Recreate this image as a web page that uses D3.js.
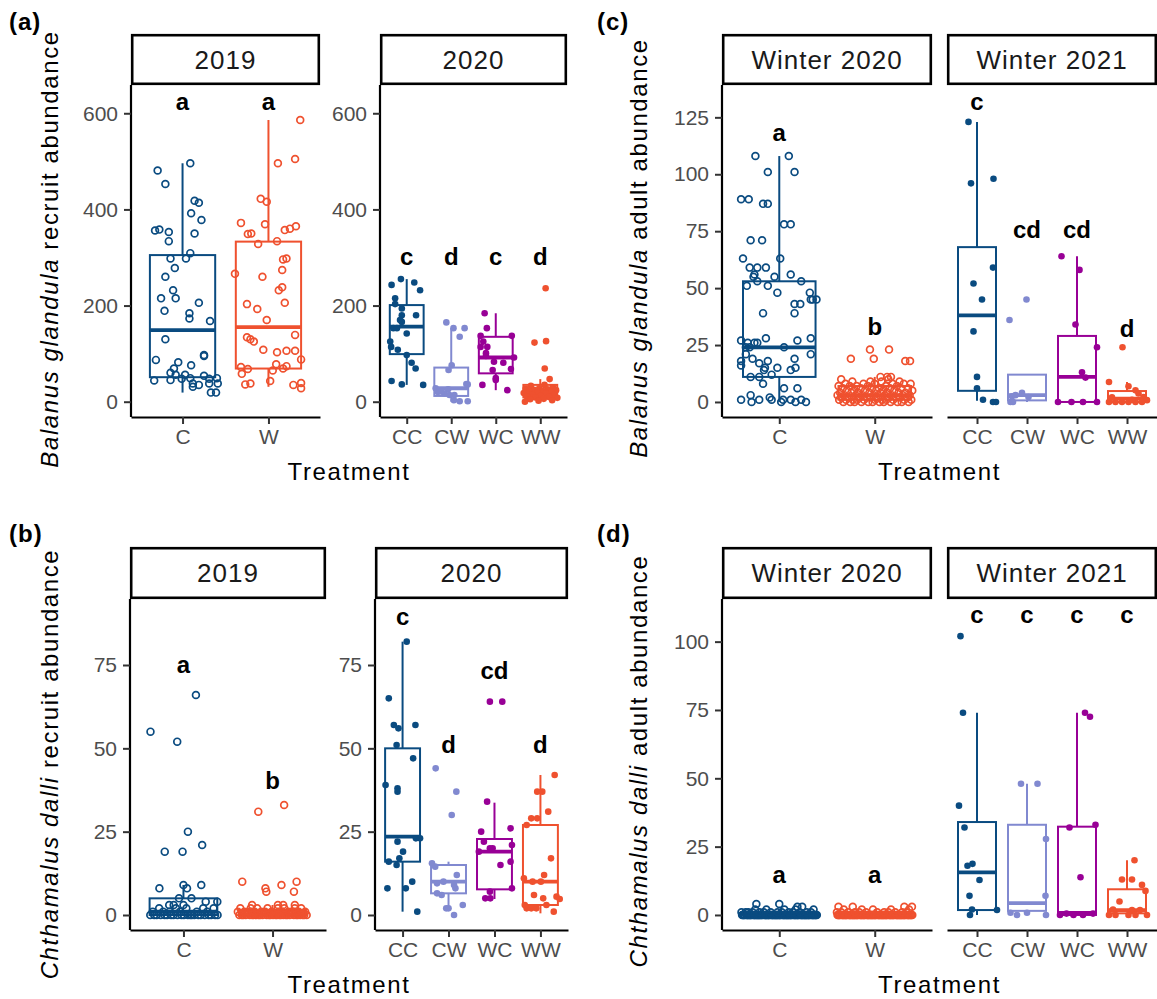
<!DOCTYPE html>
<html>
<head>
<meta charset="utf-8">
<script src="https://cdn.jsdelivr.net/npm/d3@7"></script>
<style>
  body { margin: 0; background: #fff; }
  svg { display: block; font-family: "Liberation Sans", Arial, Helvetica, sans-serif; }
  .tick text { font-family: "Liberation Sans", Arial, sans-serif; font-size: 21px; fill: #4d4d4d; }
</style>
</head>
<body>
<svg id="fig" width="1157" height="999"></svg>
<script>
// ---------- data ----------
const catsYear1 = ["C", "W"];
const catsYear2 = ["CC", "CW", "WC", "WW"];

// box stats: [lower whisker, q1, median, q3, upper whisker]
const aBox2019 = [[19, 51, 149, 305, 496], [31, 69, 155, 333, 586]];
const aBox2020 = [[35, 99, 156, 201, 255], [0, 12, 28, 71, 153], [24, 59, 92, 135, 184], [0, 9, 24, 35, 47]];
const bBox2019 = [[0, 0, 1, 5, 9], [0, 0, 0, 1.5, 3]];
const bBox2020 = [[1, 16, 23.5, 50, 82], [2, 6.5, 10, 15, 16], [4.8, 7.7, 19, 22.8, 33.7], [0.5, 3, 10, 27, 42]];
const cBox2020 = [[0, 11, 24, 53, 108], [0, 1, 3, 7, 11]];
const cBox2021 = [[0.5, 4.9, 38, 68, 123], [0, 0.7, 3, 12, 12], [0, 0, 11, 29, 64], [0, 0, 1.5, 4.8, 8.8]];
const dBox2020 = [[0, 0, 0, 1, 2], [0, 0, 0, 1, 2]];
const dBox2021 = [[0, 1.8, 15.6, 34, 74], [0, 1.5, 4.3, 33, 48], [0, 0, 0.8, 32.3, 74], [0, 0.6, 1.8, 9.4, 20]];

// points: [jitter offset in category steps, value]
const aPts2019C = [[-0.29,481],[-0.20,453],[0.09,496],[0.14,418],[0.19,414],[0.10,392],[0.22,378],[-0.32,356],[-0.27,358],[-0.16,353],[0.14,350],[-0.16,334],
  [-0.14,298],[0.04,298],[0.09,309],[-0.09,278],[-0.20,260],[-0.11,232],[-0.25,215],[-0.08,215],[0.19,206],[-0.21,189],[0.08,184],[0.08,173],[0.32,168],
  [-0.20,130],[-0.31,87],[-0.05,82],[0.25,97],[0.25,95],[0.10,76],[-0.10,69],[-0.14,60],[-0.08,56],[0.03,56],[0.09,49],[-0.33,44],[-0.14,45],[-0.01,48],
  [0.12,38],[0.12,31],[0.19,35],[0.25,54],[0.31,48],[0.40,49],[0.31,38],[0.41,38],[0.33,19],[0.39,19]];
const aPts2019W = [[0.37,586],[0.11,496],[0.31,505],[-0.09,422],[-0.02,416],[-0.32,372],[-0.04,369],[-0.24,349],[-0.20,350],[0.19,357],[0.25,360],[0.32,365],
  [-0.12,328],[0.10,334],[0.21,298],[0.17,296],[-0.39,266],[-0.07,260],[0.16,274],[0.12,232],[0.16,238],[-0.25,203],[-0.13,193],[0.19,206],[-0.02,170],
  [-0.25,134],[-0.21,130],[-0.17,125],[0.31,139],[-0.06,108],[0.10,103],[0.21,106],[0.31,106],[0.38,88],[-0.32,72],[-0.24,68],[-0.31,58],[0.09,78],
  [0.05,65],[0.17,69],[0.21,74],[0.02,43],[-0.27,36],[-0.21,38],[0.29,35],[0.38,39],[0.38,28]];
const aPts2020CC = [[-0.34,243],[-0.13,255],[0.17,248],[0.30,232],[-0.26,215],[-0.26,203],[-0.11,194],[0.21,180],[-0.11,180],[-0.15,170],[-0.30,153],
  [-0.11,166],[-0.22,153],[0,142],[-0.37,125],[-0.35,114],[-0.20,108],[0,97],[0.11,81],[0.20,69],[-0.34,43],[-0.11,36],[0.37,35]];
const aPts2020CW = [[-0.11,165],[0.05,153],[0.30,153],[0.19,135],[0.01,76],[-0.06,66],[-0.35,28],[-0.15,17],[0.07,14],[0.34,37],[0.37,36],[-0.30,20],
  [-0.04,14],[0.06,3],[0.19,1],[0.37,1],[-0.22,21],[-0.07,26]];
const aPts2020WC = [[-0.25,184],[-0.20,153],[-0.34,137],[-0.28,125],[-0.34,114],[0.36,137],[-0.22,101],[-0.04,83],[0.17,81],[0.41,92],[-0.22,95],
  [-0.07,66],[0.34,68],[0,49],[0,45],[-0.30,35],[0.26,24],[-0.19,114]];
const aPts2020WW = [[0.12,236],[-0.13,123],[0.13,126],[0.10,69],[0.21,47]];
const aDense2020WW = [[35,1],[33,1],[30,1],[28,1],[27,1],[26,1],[25,1],[24,1],[22,1],[21,1],[20,1],[19,1],[18,1],[17,1],[15,1],[14,1],[12,1],[11,1],[10,1],[9,1],[8,1],[6,1],[5,1],[3,1],[2,1],[0,1]];

const bPts2019C = [[0.14,66],[-0.37,55],[-0.07,52],[0.05,25],[-0.21,19],[-0.01,19],[0.21,21],[-0.27,8],[0,9],[0.04,8],[0.2,9],[-0.05,5],[0.09,5],
  [0.25,4],[-0.16,3],[0,3],[0.38,4],[-0.11,3]];
const bDense2019C = [[0, 22], [1, 6], [2, 5]];
const bPts2019W = [[-0.16,31],[0.13,33],[-0.34,10],[0.27,10],[-0.08,8],[-0.07,7],[0.10,9],[0.24,7],[-0.23,3],[0.06,3],[0.12,3],[0.25,3]];
const bDense2019W = [[0, 30], [1, 12], [2, 8]];
const bPts2020CC = [[0.09,82],[-0.30,65],[-0.19,57],[-0.09,56],[0.28,57],[-0.13,51],[0.23,47],[-0.37,39],[-0.11,38],[-0.11,37],[-0.11,22],[0.38,23],
  [0.29,23],[0.01,19],[-0.07,17],[-0.30,16],[-0.13,15],[-0.33,8],[0.07,8],[0.21,10],[0.32,1]];
const bPts2020CW = [[-0.28,44],[0.17,37],[0.07,30],[-0.36,15.5],[-0.29,14.5],[-0.11,10],[-0.25,9.5],[-0.15,6],[0.18,12],[0.15,8],[-0.05,2],[0,2],
  [0.12,0],[0.31,3],[0.12,9],[-0.25,6.5]];
const bPts2020WC = [[-0.10,64],[0.17,64],[-0.16,34],[-0.29,25],[0.35,26],[-0.23,22],[-0.04,20],[-0.10,20],[-0.34,19],[0.38,21],[0.35,16],[0.13,15],
  [-0.10,7],[-0.09,5],[-0.20,5],[0.38,8]];
const bPts2020WW = [[0.31,42],[-0.07,37],[0.04,37],[0.17,31],[-0.20,29],[-0.07,29],[-0.30,27],[0.23,17],[0.08,12],[-0.36,11],[-0.17,10],[0.01,10],
  [-0.14,6],[0.06,5],[0.35,5.5],[-0.30,2],[-0.20,2],[-0.09,2],[0.13,3],[0.29,1],[-0.34,3],[0.42,4.8]];

const cPts2020C = [[-0.25,108],[0.10,108],[-0.12,101],[0.16,101],[-0.40,89],[-0.32,89],[-0.17,87],[-0.12,87],[0.05,78],[0.12,78],[-0.30,71],[-0.18,71],
  [-0.38,63],[0.01,63],[-0.31,59],[-0.23,59],[-0.14,59],[-0.26,56],[-0.27,55],[-0.05,55],[0.12,56],[-0.23,53],[0.23,53],[-0.34,51],[-0.12,51],[-0.02,48],
  [0.32,48],[0.33,45],[0.39,45],[0.35,45],[0.16,43],[0.22,43],[-0.17,39],[0.16,39],[0.33,21],[-0.40,27],[-0.33,26],[-0.26,26],[-0.23,26],[-0.14,28],
  [0.19,27],[0.33,28],[-0.35,24],[-0.31,24],[0.05,24],[-0.35,21],[-0.40,18],[-0.28,19],[-0.21,17],[-0.12,18],[-0.40,16],[-0.15,15],[0.16,19],[0.17,15],
  [0.12,14],[-0.02,15],[-0.16,14],[-0.08,12],[-0.30,11],[-0.21,11],[-0.17,8],[0.05,6],[0.19,6],[-0.40,1],[-0.30,3],[-0.29,0],[-0.21,1],[-0.10,2],
  [-0.08,1],[0.02,0],[0.04,1],[0.12,1],[0.17,0],[0.23,1],[0.28,0]];
const cPts2020W = [[-0.25,19],[-0.05,23],[-0.01,19],[0.15,23],[0.32,18],[0.37,18],[0.06,11],[0.13,11],[0.17,11]];
const cDense2020W = [[0,12],[1,11],[2,10],[3,9],[4,8],[5,7],[6,7],[7,6],[8,6],[9,4],[10,2]];
const cPts2021CC = [[-0.17,123],[-0.12,96],[0.33,98],[0.32,59],[-0.07,52],[0.10,45],[-0.07,31],[0,11],[0,6],[0.12,1],[0.32,0],[0.38,0]];
const cPts2021CW = [[-0.35,36],[-0.01,45],[-0.30,2.5],[-0.23,3],[-0.10,4],[0.03,2.2],[-0.33,0],[-0.28,0]];
const cPts2021WC = [[-0.31,64],[0.05,58],[-0.03,34],[0.40,24],[0.10,13],[0.17,10.7],[-0.38,0],[-0.11,0],[0.12,0],[0.40,0]];
const cPts2021WW = [[-0.09,24],[-0.36,8.8],[0.03,6.9],[0.17,5.1],[0.23,3.7],[0.33,2.2],[0.40,0.8],[-0.36,0],[-0.23,0],[-0.10,0],[0.03,0],[0.17,0],
  [0.30,0],[-0.30,2],[0.10,1]];

const dPts2020C = [[-0.24,4],[0,4],[0.19,3],[0.24,3]];
const dDense2020C = [[0, 80], [1, 14], [2, 5]];
const dPts2020W = [[-0.38,3],[-0.23,3],[0.31,3],[0.39,3]];
const dDense2020W = [[0, 80], [1, 12], [2, 5]];
const dPts2021CC = [[-0.33,102],[-0.28,74],[-0.36,40],[-0.25,32],[-0.19,18],[-0.09,18.7],[0.05,12.8],[-0.15,7],[-0.10,2],[-0.14,0],[0.40,1.8]];
const dPts2021CW = [[-0.12,48],[0.21,48],[0.38,27.8],[0.37,7],[-0.33,0.8],[-0.20,0],[0,0.8],[0.38,0]];
const dPts2021WC = [[0.16,74],[0.26,72.5],[0.37,33],[-0.15,32],[0.07,13.8],[-0.34,0],[-0.21,0.5],[-0.07,0],[0.12,0],[0.32,0.5]];
const dPts2021WW = [[0.15,20],[-0.10,13],[0.10,13],[0.30,11],[0.37,8.8],[-0.15,4.9],[-0.28,2],[0.10,1.8],[0.26,1.8],[-0.36,0],[-0.23,0],[0.03,0],[0.17,0],[0.40,0]];

// significance letters and the value they sit at
const aLet2019 = [["a", 607], ["a", 607]];
const aLet2020 = [["c", 285], ["d", 285], ["c", 285], ["d", 285]];
const bLet2019 = [["a", 72.7], ["b", 37.7]];
const bLet2020 = [["c", 87], ["d", 48.7], ["cd", 70.7], ["d", 48.7]];
const cLet2020 = [["a", 114.4], ["b", 29.4]];
const cLet2021 = [["c", 128.4], ["cd", 71.9], ["cd", 71.9], ["d", 28.6]];
const dLet2020 = [["a", 11.8], ["a", 11.8]];
const dLet2021 = [["c", 107], ["c", 107], ["c", 107], ["c", 107]];

const aTicks = [0, 200, 400, 600];
const bTicks = [0, 25, 50, 75];
const cTicks = [0, 25, 50, 75, 100, 125];
const dTicks = [0, 25, 50, 75, 100];

// ---------- styling ----------
const colour = { C: "#0a4b80", W: "#ef512f", CC: "#0a4b80", CW: "#8189d0", WC: "#980096", WW: "#ef512f" };

// expand dense [value, count] tables into jittered points (spread evenly across the jitter width)
function dense(table) {
  const out = [];
  table.forEach(([v, n]) => { for (let k = 0; k < n; k++) out.push(v); });
  return out.map((v, i) => [(((i + 1) * 0.618034) % 1) * 0.8 - 0.4, v]);
}

const svg = d3.select("#fig");
svg.append("rect").attr("width", 1157).attr("height", 999).attr("fill", "#fff");

function drawFacet(f) {
  const g = svg.append("g");
  const x = d3.scalePoint().domain(f.cats).range([f.x0, f.x1]).padding(0.6);
  const y = f.y;
  const step = x.step();
  const bw = step * 0.76;

  // strip
  g.append("rect")
    .attr("x", f.x0 + 1.2).attr("y", f.stripTop + 1.2)
    .attr("width", f.x1 - f.x0 - 2.4).attr("height", f.top - f.stripTop - 2.4)
    .attr("fill", "#fff").attr("stroke", "#000").attr("stroke-width", 2.6);
  g.append("text")
    .attr("x", (f.x0 + f.x1) / 2).attr("y", (f.top + f.stripTop) / 2)
    .attr("dy", "0.36em").attr("text-anchor", "middle")
    .style("font-size", "26px").style("letter-spacing", "1px").attr("fill", "#1a1a1a")
    .text(f.strip);

  // axes
  const xa = g.append("g").attr("transform", `translate(0,${f.bottom})`)
    .call(d3.axisBottom(x).tickSize(7).tickSizeOuter(0).tickPadding(5));
  xa.attr("font-size", 21).attr("font-family", null);
  xa.select(".domain").attr("stroke", "#000").attr("stroke-width", 2.2);
  xa.selectAll(".tick line").attr("stroke", "#333").attr("stroke-width", 2);

  if (f.yAxis) {
    const ya = g.append("g").attr("transform", `translate(${f.x0},0)`)
      .call(d3.axisLeft(y).tickValues(f.ticks).tickSize(7).tickSizeOuter(0).tickPadding(6));
    ya.attr("font-size", 21).attr("font-family", null);
    ya.select(".domain").attr("stroke", "#000").attr("stroke-width", 2.2)
      .attr("d", `M0,${f.top}V${f.bottom}`);
    ya.selectAll(".tick line").attr("stroke", "#333").attr("stroke-width", 2);
  }

  // boxplots
  f.cats.forEach((c, i) => {
    const [lo, q1, med, q3, hi] = f.boxes[i];
    const cx = x(c), col = colour[c];
    const bg = g.append("g").attr("stroke", col).attr("fill", "none");
    bg.append("line").attr("x1", cx).attr("x2", cx).attr("y1", y(hi)).attr("y2", y(q3)).attr("stroke-width", 2);
    bg.append("line").attr("x1", cx).attr("x2", cx).attr("y1", y(q1)).attr("y2", y(lo)).attr("stroke-width", 2);
    bg.append("rect").attr("x", cx - bw / 2).attr("y", y(q3))
      .attr("width", bw).attr("height", Math.max(0.5, y(q1) - y(q3))).attr("stroke-width", 2);
    bg.append("line").attr("x1", cx - bw / 2).attr("x2", cx + bw / 2)
      .attr("y1", y(med)).attr("y2", y(med)).attr("stroke-width", 3.8);
  });

  // jittered points
  f.cats.forEach((c, i) => {
    const col = colour[c];
    g.append("g").selectAll("circle").data(f.pts[i]).join("circle")
      .attr("cx", d => x(c) + d[0] * step)
      .attr("cy", d => y(d[1]))
      .attr("r", f.filled ? 3.3 : 3.4)
      .attr("fill", f.filled ? col : "none")
      .attr("stroke", f.filled ? "none" : col)
      .attr("stroke-width", 1.7);
  });

  // letters
  g.append("g").selectAll("text").data(f.letters).join("text")
    .attr("x", (d, i) => x(f.cats[i]))
    .attr("y", d => y(d[1]))
    .attr("text-anchor", "middle")
    .style("font-size", "24px").style("font-weight", "bold").attr("fill", "#000")
    .text(d => d[0]);
}

function panel(p) {
  const y = d3.scaleLinear().domain(p.domain).range([p.bottom, p.top]);
  p.facets.forEach(f => drawFacet(Object.assign({ y, top: p.top, bottom: p.bottom, stripTop: p.stripTop, ticks: p.ticks }, f)));

  svg.append("text")
    .attr("x", p.labelX).attr("y", p.labelY)
    .style("font-size", "24px").style("font-weight", "bold").style("letter-spacing", "1px")
    .text(p.label);

  const xt = svg.append("text")
    .attr("transform", `translate(${p.titleX},${p.titleY}) rotate(-90)`)
    .attr("text-anchor", "middle")
    .style("font-size", "24px").style("letter-spacing", "1.6px").attr("fill", "#000");
  xt.append("tspan").style("font-style", "italic").text(p.species);
  xt.append("tspan").text(" " + p.measure);

  const x0 = p.facets[0].x0, x1 = p.facets[p.facets.length - 1].x1;
  svg.append("text")
    .attr("x", (x0 + x1) / 2).attr("y", p.bottom + 63)
    .attr("text-anchor", "middle")
    .style("font-size", "24px").style("letter-spacing", "1.6px").attr("fill", "#000")
    .text("Treatment");
}

panel({
  label: "(a)", labelX: 9, labelY: 30, titleX: 58, titleY: 249,
  species: "Balanus glandula", measure: "recruit abundance",
  stripTop: 34, top: 85, bottom: 417, domain: [-31.8, 658.8], ticks: aTicks,
  facets: [
    { strip: "2019", x0: 131, x1: 320, cats: catsYear1, boxes: aBox2019, pts: [aPts2019C, aPts2019W], letters: aLet2019, filled: false, yAxis: true },
    { strip: "2020", x0: 380, x1: 567, cats: catsYear2, boxes: aBox2020,
      pts: [aPts2020CC, aPts2020CW, aPts2020WC, aPts2020WW.concat(dense(aDense2020WW))], letters: aLet2020, filled: true, yAxis: true }
  ]
});

panel({
  label: "(b)", labelX: 9, labelY: 542, titleX: 58, titleY: 764,
  species: "Chthamalus dalli", measure: "recruit abundance",
  stripTop: 547, top: 599, bottom: 930, domain: [-4.5, 94.8], ticks: bTicks,
  facets: [
    { strip: "2019", x0: 130, x1: 326, cats: catsYear1, boxes: bBox2019,
      pts: [bPts2019C.concat(dense(bDense2019C)), bPts2019W.concat(dense(bDense2019W))], letters: bLet2019, filled: false, yAxis: true },
    { strip: "2020", x0: 375, x1: 568, cats: catsYear2, boxes: bBox2020,
      pts: [bPts2020CC, bPts2020CW, bPts2020WC, bPts2020WW], letters: bLet2020, filled: true, yAxis: true }
  ]
});

panel({
  label: "(c)", labelX: 597, labelY: 30, titleX: 647, titleY: 248,
  species: "Balanus glandula", measure: "adult abundance",
  stripTop: 34, top: 85, bottom: 417, domain: [-6.6, 139.2], ticks: cTicks,
  facets: [
    { strip: "Winter 2020", x0: 722, x1: 932, cats: catsYear1, boxes: cBox2020,
      pts: [cPts2020C, cPts2020W.concat(dense(cDense2020W))], letters: cLet2020, filled: false, yAxis: true },
    { strip: "Winter 2021", x0: 947, x1: 1157, cats: catsYear2, boxes: cBox2021,
      pts: [cPts2021CC, cPts2021CW, cPts2021WC, cPts2021WW], letters: cLet2021, filled: true, yAxis: false }
  ]
});

panel({
  label: "(d)", labelX: 597, labelY: 542, titleX: 647, titleY: 761,
  species: "Chthamalus dalli", measure: "adult abundance",
  stripTop: 547, top: 599, bottom: 930, domain: [-5.5, 115.6], ticks: dTicks,
  facets: [
    { strip: "Winter 2020", x0: 722, x1: 932, cats: catsYear1, boxes: dBox2020,
      pts: [dPts2020C.concat(dense(dDense2020C)), dPts2020W.concat(dense(dDense2020W))], letters: dLet2020, filled: false, yAxis: true },
    { strip: "Winter 2021", x0: 947, x1: 1157, cats: catsYear2, boxes: dBox2021,
      pts: [dPts2021CC, dPts2021CW, dPts2021WC, dPts2021WW], letters: dLet2021, filled: true, yAxis: false }
  ]
});
</script>
</body>
</html>
